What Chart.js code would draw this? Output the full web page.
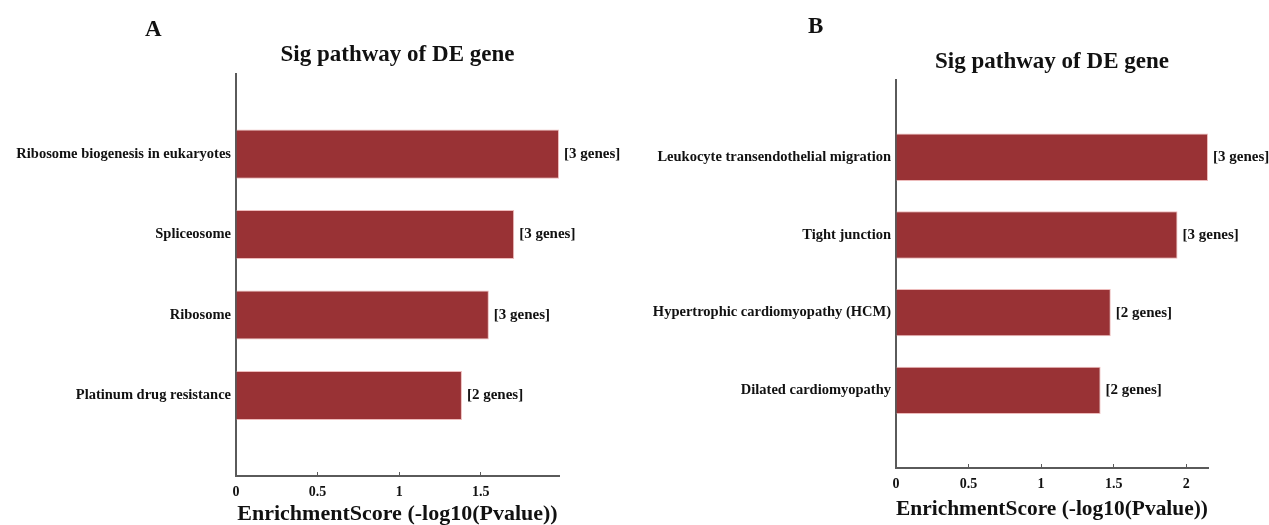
<!DOCTYPE html>
<html>
<head>
<meta charset="utf-8">
<script src="https://cdn.jsdelivr.net/npm/chart.js@4/dist/chart.umd.min.js"></script>
<style>
  html, body { margin: 0; padding: 0; background: #fff; }
  #wrap { position: relative; width: 1269px; height: 525px; overflow: hidden; }
  .panel { position: absolute; top: 0; height: 530px; }
  .letter { position: absolute; font-family: "Liberation Serif", "Times New Roman", serif;
            font-weight: bold; font-size: 23px; color: #111; line-height: 1; }
</style>
</head>
<body>
<div id="wrap">
  <div class="panel" id="pA" style="left:0;width:640px;"><canvas id="cA"></canvas></div>
  <div class="panel" id="pB" style="left:640px;width:629px;"><canvas id="cB"></canvas></div>
  <div class="letter" style="left:145px;top:17px;">A</div>
  <div class="letter" style="left:808px;top:14px;">B</div>
</div>
<script>
// Panel A: pathways, enrichment scores and gene counts
const pathwaysA = ['Ribosome biogenesis in eukaryotes', 'Spliceosome', 'Ribosome', 'Platinum drug resistance'];
const scoresA = [1.98, 1.705, 1.55, 1.385];
const genesA = [3, 3, 3, 2];
const xTicksA = [0, 0.5, 1, 1.5];

// Panel B
const pathwaysB = ['Leukocyte transendothelial migration', 'Tight junction', 'Hypertrophic cardiomyopathy (HCM)', 'Dilated cardiomyopathy'];
const scoresB = [2.15, 1.94, 1.48, 1.41];
const genesB = [3, 3, 2, 2];
const xTicksB = [0, 0.5, 1, 1.5, 2];

const titleText = 'Sig pathway of DE gene';
const xTitle = 'EnrichmentScore (-log10(Pvalue))';

const SERIF = '"Liberation Serif", "Times New Roman", serif';
const BAR = '#993235';
const AXIS = '#5a5a5a';

// "[n genes]" annotation at the end of each bar
const geneLabels = {
  id: 'geneLabels',
  afterDatasetsDraw(chart, args, opts) {
    const ctx = chart.ctx;
    const meta = chart.getDatasetMeta(0);
    ctx.save();
    ctx.font = 'bold 15px ' + SERIF;
    ctx.fillStyle = '#111';
    ctx.textAlign = 'left';
    ctx.textBaseline = 'middle';
    meta.data.forEach((bar, i) => {
      const n = opts.genes[i];
      if (n == null) return;
      ctx.fillText('[' + n + ' genes]', bar.x + 5, bar.y);
    });
    ctx.restore();
  }
};

function makeChart(id, labels, scores, genes, ticks, box) {
  // one empty slot above and below keeps the bars off the axis ends
  const cats = [''].concat(labels, ['']);
  const vals = [null].concat(scores, [null]);
  const gns = [null].concat(genes, [null]);
  const xMax = Math.max.apply(null, scores);
  return new Chart(document.getElementById(id), {
    type: 'bar',
    data: {
      labels: cats,
      datasets: [{
        data: vals,
        backgroundColor: BAR,
        borderColor: 'rgba(235,180,180,0.9)',
        borderWidth: 1,
        categoryPercentage: 0.61,
        barPercentage: 1
      }]
    },
    plugins: [geneLabels],
    options: {
      indexAxis: 'y',
      responsive: true,
      maintainAspectRatio: false,
      animation: false,
      layout: { padding: { left: 0, right: box.padRight, top: 0, bottom: 0 } },
      plugins: {
        legend: { display: false },
        tooltip: { enabled: false },
        title: {
          display: true,
          text: titleText,
          fullSize: false,
          color: '#111',
          font: { family: SERIF, size: 23, weight: 'bold' },
          padding: { top: box.titleTop, bottom: box.titleBottom }
        },
        geneLabels: { genes: gns }
      },
      scales: {
        x: {
          type: 'linear',
          min: 0,
          max: xMax,
          afterBuildTicks(scale) { scale.ticks = ticks.map(v => ({ value: v })); },
          afterFit(scale) { scale.height = box.xHeight; },
          grid: { display: true, drawOnChartArea: false, drawTicks: true, tickLength: -4, color: AXIS, lineWidth: 1 },
          border: { display: true, color: AXIS, width: 2 },
          ticks: {
            padding: 12,
            color: '#111',
            font: { family: SERIF, size: 14, weight: 'bold' },
            maxRotation: 0,
            callback: (v) => String(v)
          },
          title: {
            display: true,
            text: xTitle,
            color: '#111',
            font: { family: SERIF, size: 22, weight: 'bold' },
            padding: { top: 3, bottom: box.xTitleBottom }
          }
        },
        y: {
          type: 'category',
          offset: false,
          afterFit(scale) { scale.width = box.yWidth; },
          grid: { display: false, drawTicks: false },
          border: { display: true, color: AXIS, width: 2 },
          ticks: {
            padding: 5,
            color: '#111',
            autoSkip: false,
            font: { family: SERIF, size: 14.5, weight: 'bold' }
          }
        }
      }
    }
  });
}

makeChart('cA', pathwaysA, scoresA, genesA, xTicksA,
  { padRight: 81, titleTop: 41, titleBottom: 5, xHeight: 54, xTitleBottom: 2, yWidth: 236 });
makeChart('cB', pathwaysB, scoresB, genesB, xTicksB,
  { padRight: 61, titleTop: 48, titleBottom: 4, xHeight: 62, xTitleBottom: 7, yWidth: 256 });
</script>
</body>
</html>
